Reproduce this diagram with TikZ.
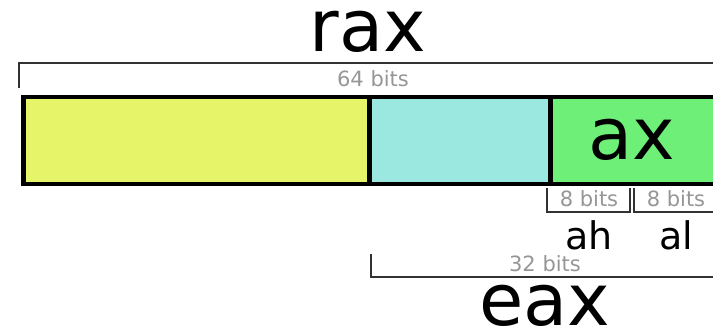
\documentclass[tikz,border=0pt]{standalone}
\usepackage{fontspec}
\setmainfont{DejaVu Sans}
\usepackage{tikz}
\usetikzlibrary{positioning, calc}
\definecolor{regyel}{RGB}{230,244,106}
\definecolor{regcyan}{RGB}{155,232,224}
\definecolor{reggrn}{RGB}{110,240,120}
\definecolor{brkgray}{RGB}{50,50,50}
\definecolor{bitgray}{RGB}{150,150,150}
\tikzset{
  part/.style={rectangle, draw=black, line width=4.5pt, inner sep=0pt,
    minimum height=87pt, anchor=north west},
  bigname/.style={font=\fontsize{72}{80}\selectfont, inner sep=0pt, anchor=base},
  midname/.style={font=\fontsize{38}{44}\selectfont, inner sep=0pt, anchor=base},
  bits/.style={font=\fontsize{21}{25}\selectfont, text=bitgray, inner sep=0pt, anchor=base},
  brk/.style={draw=brkgray, line width=2.5pt}
}
\begin{document}
\begin{tikzpicture}[x=1pt, y=-1pt]
  \useasboundingbox (0,0) rectangle (713,328);
  \clip (0,0) rectangle (713,328);

  % Register parts
  \node[part, fill=regyel, minimum width=346pt] (hi) at (21,95) {};
  \node[part, fill=regcyan, minimum width=181pt] (mid) at (367,95) {};
  \node[part, fill=reggrn, minimum width=200pt] (low) at (548,95) {};
  \node[bigname] (axname) at (632,160) {ax};

  % 64 bits
  \node[bigname] (raxname) at (368,52) {rax};
  \coordinate (r1) at (19,88);
  \coordinate (r2) at (740,63);
  \draw[brk] (r1) |- (r2);
  \node[bits] (b64) at (373,87) {64 bits};

  % 8 bits
  \coordinate (h1) at (547,188);
  \coordinate (h2) at (630,188);
  \draw[brk] (h1) -- ++(0,24) -| (h2);
  \node[bits] (b8h) at (589,207) {8 bits};
  \node[midname] (ahname) at (589,250) {ah};
  \coordinate (l1) at (634,188);
  \coordinate (l2) at (740,212);
  \draw[brk] (l1) |- (l2);
  \node[bits] (b8l) at (676,207) {8 bits};
  \node[midname] (alname) at (676,250) {al};

  % 32 bits
  \coordinate (e1) at (371,254);
  \coordinate (e2) at (740,277);
  \draw[brk] (e1) |- (e2);
  \node[bits] (b32) at (545,272) {32 bits};
  \node[bigname] (eaxname) at (545,326) {eax};

\end{tikzpicture}
\end{document}
